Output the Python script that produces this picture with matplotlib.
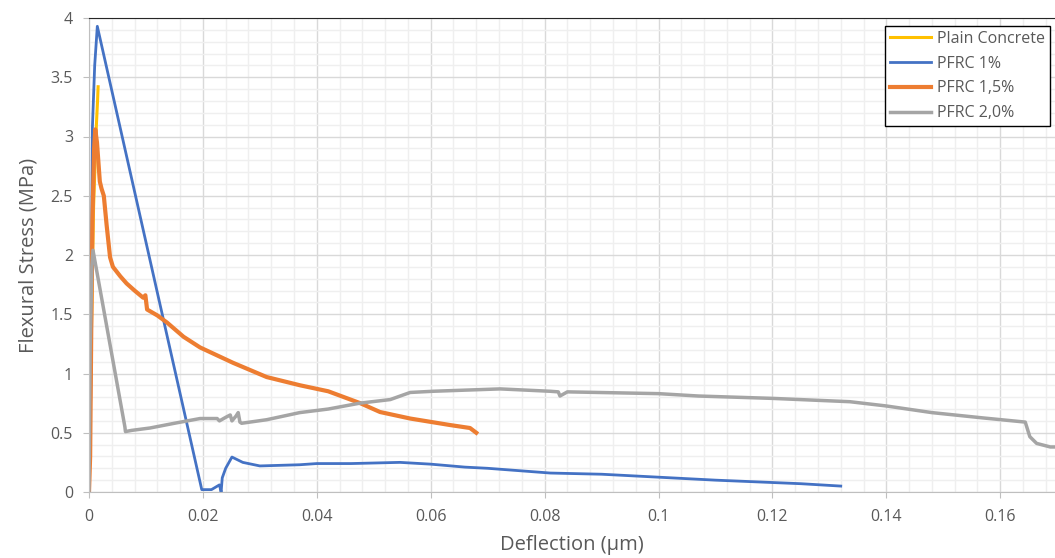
import matplotlib
matplotlib.use('Agg')
import matplotlib.pyplot as plt
from matplotlib.ticker import MultipleLocator

plt.rcParams['font.family'] = ['Open Sans', 'DejaVu Sans']

# Plain Concrete
plain_x = [0, 0.0003, 0.0008, 0.0013, 0.0015, 0.0016]
plain_y = [0, 1.0, 2.4, 3.1, 3.3, 3.42]

# PFRC 1%
pf1_x = [0, 0.0003, 0.0006, 0.0010, 0.00146, 0.0198, 0.0215, 0.0229, 0.0232, 0.0234,
         0.0240, 0.0251, 0.0270, 0.0300, 0.0370, 0.0400, 0.0460, 0.0546, 0.0600,
         0.0660, 0.0700, 0.0810, 0.0900, 0.1000, 0.1100, 0.1250, 0.1320]
pf1_y = [0, 0.8, 3.08, 3.6, 3.93, 0.02, 0.02, 0.06, 0.0, 0.12,
         0.2, 0.295, 0.25, 0.22, 0.23, 0.24, 0.24, 0.25, 0.235,
         0.21, 0.20, 0.16, 0.15, 0.125, 0.10, 0.07, 0.05]

# PFRC 1,5%
pf15_x = [0, 0.0002, 0.0004, 0.0006, 0.0009, 0.0011, 0.0014, 0.0019, 0.0022, 0.0026,
          0.0031, 0.0037, 0.0042, 0.0055, 0.0066, 0.0080, 0.0095, 0.0099, 0.0102,
          0.0120, 0.0137, 0.0166, 0.0195, 0.0253, 0.0312, 0.0371, 0.0420, 0.0476,
          0.0511, 0.0564, 0.0634, 0.0669, 0.0680]
pf15_y = [0, 0.3, 1.4, 2.3, 2.9, 3.06, 2.95, 2.62, 2.56, 2.5,
          2.25, 1.98, 1.9, 1.82, 1.76, 1.70, 1.64, 1.66, 1.54,
          1.49, 1.43, 1.31, 1.22, 1.09, 0.97, 0.90, 0.85, 0.75,
          0.675, 0.62, 0.565, 0.54, 0.50]

# PFRC 2,0%
pf20_x = [0, 0.0002, 0.0005, 0.0007, 0.0063, 0.0064, 0.0075, 0.0107, 0.0150, 0.0195,
          0.0225, 0.0229, 0.0240, 0.0248, 0.0251, 0.0258, 0.0262, 0.0265, 0.0268,
          0.0312, 0.0370, 0.0420, 0.0476, 0.0529, 0.0564, 0.0604, 0.0722, 0.0810,
          0.0824, 0.0827, 0.0840, 0.1000, 0.1070, 0.1200, 0.1336, 0.1400, 0.1480,
          0.1570, 0.1644, 0.1652, 0.1664, 0.1688, 0.1700]
pf20_y = [0, 1.2, 1.9, 2.04, 0.55, 0.51, 0.52, 0.54, 0.58, 0.62,
          0.62, 0.60, 0.63, 0.65, 0.60, 0.64, 0.67, 0.59, 0.58,
          0.61, 0.67, 0.70, 0.75, 0.78, 0.84, 0.85, 0.87, 0.85,
          0.845, 0.81, 0.845, 0.83, 0.81, 0.79, 0.762, 0.726, 0.67,
          0.625, 0.59, 0.467, 0.41, 0.38, 0.38]

x_ticks = [0, 0.02, 0.04, 0.06, 0.08, 0.1, 0.12, 0.14, 0.16]
x_labels = ['0', '0.02', '0.04', '0.06', '0.08', '0.1', '0.12', '0.14', '0.16']
y_ticks = [0, 0.5, 1, 1.5, 2, 2.5, 3, 3.5, 4]
y_labels = ['0', '0.5', '1', '1.5', '2', '2.5', '3', '3.5', '4']

fig = plt.figure(figsize=(10.55, 5.58), dpi=100)
ax = fig.add_axes([89/1055, 66/558, 966/1055, 474/558])

ax.plot(plain_x, plain_y, color='#FFC000', lw=2.2, label='Plain Concrete')
ax.plot(pf1_x, pf1_y, color='#4472C4', lw=2.0, label='PFRC 1%')
ax.plot(pf15_x, pf15_y, color='#ED7D31', lw=3.0, label='PFRC 1,5%')
ax.plot(pf20_x, pf20_y, color='#A5A5A5', lw=2.5, label='PFRC 2,0%')

ax.set_xlim(0, 966/5695)
ax.set_ylim(0, 4)
ax.set_xticks(x_ticks)
ax.set_xticklabels(x_labels)
ax.set_yticks(y_ticks)
ax.set_yticklabels(y_labels)
ax.xaxis.set_minor_locator(MultipleLocator(0.004))
ax.yaxis.set_minor_locator(MultipleLocator(0.1))

ax.grid(which='major', color='#d9d9d9', lw=1)
ax.grid(which='minor', color='#efefef', lw=1)
ax.set_axisbelow(True)

ax.tick_params(which='major', direction='out', length=4.5, color='#bfbfbf',
               labelcolor='#595959', labelsize=11.5)
ax.tick_params(axis='x', pad=8)
ax.tick_params(axis='y', pad=7)
ax.tick_params(which='minor', length=0)

for s in ['left', 'bottom']:
    ax.spines[s].set_color('#bfbfbf')
ax.spines['right'].set_visible(False)
ax.spines['top'].set_color('#262626')

ax.set_xlabel('Deflection (µm)', color='#595959', fontsize=14.5, labelpad=7)
ax.set_ylabel('Flexural Stress (MPa)', color='#595959', fontsize=14.5, labelpad=9)

leg = ax.legend(loc='upper left', bbox_to_anchor=(885/1055, 1 - 26/558),
                bbox_transform=fig.transFigure, fancybox=False, framealpha=1,
                edgecolor='black', fontsize=11.5, handlelength=2.6,
                borderpad=0.3, labelspacing=0.55, handletextpad=0.35,
                borderaxespad=0)
leg.get_frame().set_linewidth(1.0)
for t in leg.get_texts():
    t.set_color('#595959')

fig.savefig('out.png', dpi=100)
